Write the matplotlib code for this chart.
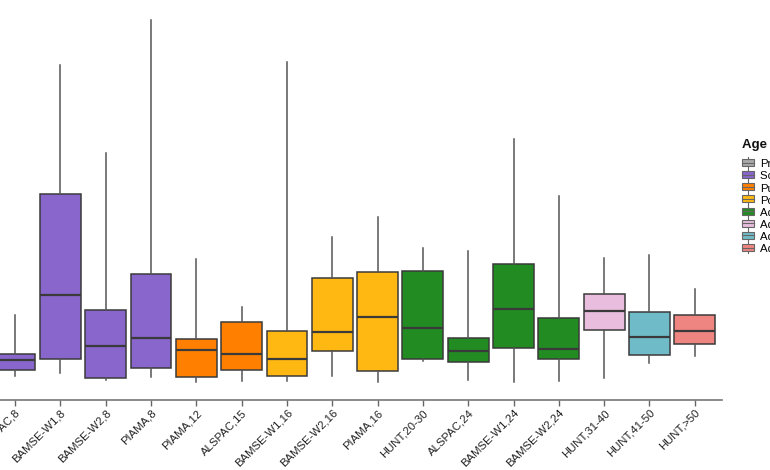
import matplotlib
matplotlib.use("Agg")
import matplotlib.pyplot as plt
from matplotlib.patches import Rectangle, Patch
from matplotlib.lines import Line2D
from matplotlib.legend_handler import HandlerBase

plt.rcParams["font.family"] = ["Liberation Sans", "DejaVu Sans"]

# === DATA (arbitrary units) ===
labels = ["ALSPAC,8", "BAMSE-W1,8", "BAMSE-W2,8", "PIAMA,8", "PIAMA,12", "ALSPAC,15",
          "BAMSE-W1,16", "BAMSE-W2,16", "PIAMA,16", "HUNT,20-30", "ALSPAC,24",
          "BAMSE-W1,24", "BAMSE-W2,24", "HUNT,31-40", "HUNT,41-50", "HUNT,>50"]
groups = ["School age", "School age", "School age", "School age", "Puberty", "Puberty",
          "Post-puberty", "Post-puberty", "Post-puberty", "Adult 20-30", "Adult 20-30",
          "Adult 20-30", "Adult 20-30", "Adult 31-40", "Adult 41-50", "Adult >50"]
whislo = [6.0, 6.8, 5.0, 5.8, 4.5, 4.8, 4.8, 6.0, 4.5, 9.8, 5.0, 4.5, 4.8, 5.5, 9.3, 11.0]
q1     = [7.5, 10.3, 5.5, 8.0, 5.8, 7.5, 6.0, 12.3, 7.3, 10.3, 9.5, 13.0, 10.3, 17.5, 11.3, 14.0]
med    = [10.0, 26.3, 13.5, 15.5, 12.5, 11.5, 10.3, 17.0, 20.8, 18.0, 12.3, 22.8, 12.8, 22.3, 15.8, 17.3]
q3     = [11.5, 51.5, 22.5, 31.5, 15.3, 19.5, 17.3, 30.5, 32.0, 32.3, 15.5, 34.0, 20.5, 26.5, 22.0, 21.3]
whishi = [21.3, 83.8, 61.8, 95.0, 35.3, 23.3, 84.5, 40.8, 45.8, 38.0, 37.3, 65.3, 51.0, 35.5, 36.3, 27.8]

legend_groups = ["Preschool", "School age", "Puberty", "Post-puberty",
                 "Adult 20-30", "Adult 31-40", "Adult 41-50", "Adult >50"]
group_colors = {"Preschool": "#A8A8A8", "School age": "#8866CC", "Puberty": "#FF8000",
                "Post-puberty": "#FFB812", "Adult 20-30": "#228B22", "Adult 31-40": "#E8BDDD",
                "Adult 41-50": "#6FBCC8", "Adult >50": "#EF8580"}

edge = "#3a3a3a"
W, H = 770, 470

fig = plt.figure(figsize=(W / 100, H / 100), dpi=100)
# the plot area runs off the left edge of the picture
ax_left, ax_right, ax_top, ax_bottom = -12.2, 722, 0, 400
ax = fig.add_axes([ax_left / W, 1 - ax_bottom / H, (ax_right - ax_left) / W, (ax_bottom - ax_top) / H])

stats = [dict(whislo=a, q1=b, med=c, q3=d, whishi=e, fliers=[])
         for a, b, c, d, e in zip(whislo, q1, med, q3, whishi)]
bp = ax.bxp(stats, positions=range(len(labels)), widths=0.9, patch_artist=True,
            showcaps=False,
            boxprops=dict(edgecolor=edge, linewidth=1.1),
            medianprops=dict(color=edge, linewidth=1.6),
            whiskerprops=dict(color="#555555", linewidth=1.1))
for patch, g in zip(bp["boxes"], groups):
    patch.set_facecolor(group_colors[g])

ax.set_xlim(-0.6, len(labels) - 0.4)
ax.set_ylim(0, 100)
ax.set_xticks(range(len(labels)))
ax.set_xticklabels(labels, rotation=45, ha="right", va="top", rotation_mode="anchor",
                   fontsize=8.2, color="#222222")
ax.tick_params(axis="x", length=4, color="#666666", width=1, pad=1.5)
ax.set_yticks([])
for s in ["top", "right", "left"]:
    ax.spines[s].set_visible(False)
ax.spines["bottom"].set_color("#777777")
ax.spines["bottom"].set_linewidth(1.2)


class BoxKey(HandlerBase):
    def create_artists(self, legend, orig, x0, y0, width, height, fontsize, trans):
        fc = orig.get_facecolor()
        cx = x0 + width / 2
        r = Rectangle((x0, y0 + height * 0.1), width, height * 0.8, facecolor=fc,
                      edgecolor="#666666", lw=0.8, transform=trans)
        m = Line2D([x0, x0 + width], [y0 + height / 2] * 2, color="#666666", lw=0.8, transform=trans)
        w1 = Line2D([cx, cx], [y0 - height * 0.15, y0 + height * 0.1], color="#666666", lw=0.8, transform=trans)
        w2 = Line2D([cx, cx], [y0 + height * 0.9, y0 + height * 1.15], color="#666666", lw=0.8, transform=trans)
        return [r, m, w1, w2]


fig.text(742 / W, 1 - 145 / H, "Age group", fontsize=9.5, fontweight="bold",
         ha="left", va="center", color="#111111")
handles = [Patch(facecolor=group_colors[g], label=g) for g in legend_groups]
leg = fig.legend(handles=handles, loc="upper left", bbox_to_anchor=(742 / W, 1 - 159 / H),
                 frameon=False, fontsize=8.2,
                 handler_map={Patch: BoxKey()}, handlelength=1.05, handleheight=0.8,
                 handletextpad=0.5, labelspacing=0.16, borderpad=0, borderaxespad=0)

fig.savefig("out.png", dpi=100)
